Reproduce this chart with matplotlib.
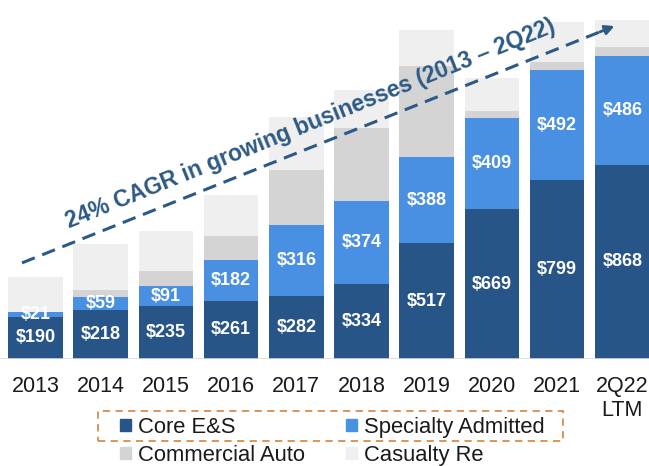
import matplotlib.pyplot as plt
import numpy as np
from matplotlib.patches import Patch, Rectangle

plt.rcParams['font.family'] = ['Liberation Sans', 'DejaVu Sans']

years = ['2013', '2014', '2015', '2016', '2017', '2018', '2019', '2020', '2021', '2Q22\nLTM']
core_es = [190, 218, 235, 261, 282, 334, 517, 669, 799, 868]
specialty = [21, 59, 91, 182, 316, 374, 388, 409, 492, 486]
commercial_auto = [0, 32, 68, 108, 248, 326, 406, 30, 36, 42]
casualty_re = [155, 204, 177, 183, 237, 170, 161, 149, 179, 121]

c_core = '#285587'
c_spec = '#4a90e2'
c_auto = '#d4d4d4'
c_cas = '#efefef'
c_text = '#2c5a85'

fig = plt.figure(figsize=(6.49, 4.66), dpi=100)
ax = fig.add_axes([0, 0.2296, 1, 0.7704])

x = np.arange(len(years))
core = np.array(core_es)
spec = np.array(specialty)
auto = np.array(commercial_auto)
cas = np.array(casualty_re)
w = 0.84

ax.bar(x, core, w, color=c_core)
ax.bar(x, spec, w, bottom=core, color=c_spec)
ax.bar(x, auto, w, bottom=core + spec, color=c_auto)
ax.bar(x, cas, w, bottom=core + spec + auto, color=c_cas)

for i in x:
    ax.text(i, core[i] / 2, f'${core[i]}', ha='center', va='center',
            color='white', fontsize=13, fontweight='bold')
    ax.text(i, core[i] + spec[i] / 2, f'${spec[i]}', ha='center', va='center',
            color='white', fontsize=13, fontweight='bold')

ax.set_xlim(-0.545, 9.41)
ax.set_ylim(0, 1606)
ax.axhline(0, color='#d9d9d9', lw=1.2)

# CAGR arrow
x0, y0, x1, y1 = -0.207, 430, 8.92, 1494
ax.plot([x0, x1 - 0.15], [y0, y1 - 0.15 * (y1 - y0) / (x1 - x0)],
        color=c_text, lw=2.2, dashes=(4.5, 2.6))
ax.annotate('', xy=(x1, y1), xytext=(x1 - 0.3, y1 - 0.3 * (y1 - y0) / (x1 - x0)),
            arrowprops=dict(arrowstyle='-|>,head_length=0.55,head_width=0.28',
                            color=c_text, lw=2))
ax.text(4.21, 1050, '24% CAGR in growing businesses (2013 \u2013 2Q22)',
        ha='center', va='center', rotation=22, rotation_mode='anchor',
        color=c_text, fontsize=16.5, fontweight='bold')

ax.set_xticks(x)
ax.set_xticklabels(years, fontsize=15.5, color='#1a1a1a')
ax.tick_params(axis='x', length=0, pad=12)
ax.set_yticks([])
for s in ax.spines.values():
    s.set_visible(False)

handles = [Patch(color=c_core, label='Core E&S'),
           Patch(color=c_auto, label='Commercial Auto'),
           Patch(color=c_spec, label='Specialty Admitted'),
           Patch(color=c_cas, label='Casualty Re')]
fig.legend(handles=handles, ncol=2, loc='upper left',
           bbox_to_anchor=(120 / 649, 1 - 417 / 466), frameon=False,
           fontsize=15.8, handlelength=0.5, handleheight=0.5,
           handletextpad=0.3, columnspacing=1.9, labelspacing=0.3,
           borderpad=0, borderaxespad=0, labelcolor='#1a1a1a')

fig.patches.append(Rectangle((98 / 649, 25 / 466), 465 / 649, 30 / 466,
                             transform=fig.transFigure, fill=False,
                             edgecolor='#d98c4a', lw=1.3, ls=(0, (4, 3))))

fig.savefig('out.png', dpi=100)
